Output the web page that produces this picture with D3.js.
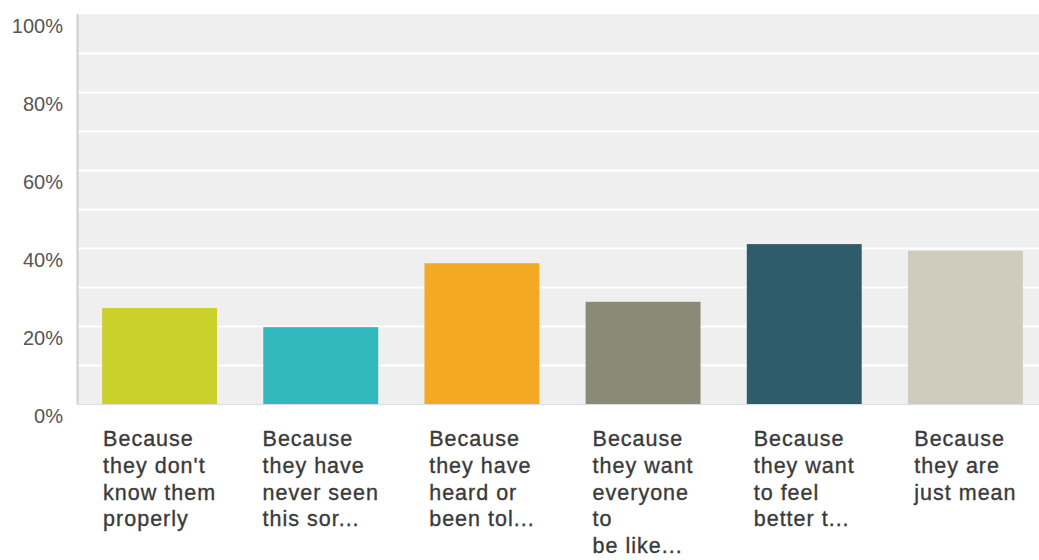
<!DOCTYPE html>
<html>
<head>
<meta charset="utf-8">
<script src="https://cdn.jsdelivr.net/npm/d3@7"></script>
<style>
  html, body { margin: 0; padding: 0; background: #fff; }
  svg { display: block; }
</style>
</head>
<body>
<div id="chart"></div>
<script>
const categories = [
  ['Because', "they don't", 'know them', 'properly'],
  ['Because', 'they have', 'never seen', 'this sor...'],
  ['Because', 'they have', 'heard or', 'been tol...'],
  ['Because', 'they want', 'everyone', 'to', 'be like...'],
  ['Because', 'they want', 'to feel', 'better t...'],
  ['Because', 'they are', 'just mean']
]
const values = [24.6, 19.7, 36.1, 26.2, 41.0, 39.3]
const colors = ['#c9d12a', '#30b8bd', '#f3aa22', '#8a8a79', '#2e5c6b', '#d0ccbd']
const yTicks = [0, 20, 40, 60, 80, 100]
const yGrid = d3.range(0, 101, 10)

const width = 1039
const height = 560
const margin = { top: 14, bottom: 156, left: 78, right: -7 }

const svg = d3.select('#chart')
  .append('svg')
  .attr('width', width)
  .attr('height', height)
  .attr('viewBox', [0, 0, width, height].join(' '))

const x = d3.scaleBand()
  .domain(d3.range(categories.length))
  .range([margin.left + 1, width - margin.right])
  .paddingInner(0.287)
  .paddingOuter(0.1435)

const y = d3.scaleLinear()
  .domain([0, 100])
  .range([height - margin.bottom, margin.top])

// plot background
svg.append('rect')
  .attr('x', margin.left)
  .attr('y', y(100))
  .attr('width', width - margin.left)
  .attr('height', y(0) - y(100))
  .attr('fill', '#efefef')

// gridlines
svg.append('g')
  .attr('class', 'grid')
  .selectAll('line')
  .data(yGrid.filter(d => d > 0 && d < 100))
  .join('line')
  .attr('x1', margin.left)
  .attr('x2', width)
  .attr('y1', d => Math.round(y(d)) + 0.5)
  .attr('y2', d => Math.round(y(d)) + 0.5)
  .attr('stroke', '#ffffff')
  .attr('stroke-width', 2)

// bars
svg.append('g')
  .attr('class', 'bars')
  .selectAll('rect')
  .data(values)
  .join('rect')
  .attr('x', (d, i) => x(i))
  .attr('y', d => y(d))
  .attr('width', x.bandwidth())
  .attr('height', d => y(0) - y(d))
  .attr('fill', (d, i) => colors[i])

// axis lines
svg.append('line')
  .attr('x1', margin.left - 0.5).attr('x2', margin.left - 0.5)
  .attr('y1', y(100)).attr('y2', y(0))
  .attr('stroke', '#cfcfcf')
  .attr('stroke-width', 2)
svg.append('line')
  .attr('x1', margin.left - 1).attr('x2', width)
  .attr('y1', y(0) + 0.5).attr('y2', y(0) + 0.5)
  .attr('stroke', '#dadde6')

// y labels
svg.append('g')
  .attr('class', 'y')
  .selectAll('text')
  .data(yTicks)
  .join('text')
  .attr('x', 63)
  .attr('y', d => y(d) + 18.5)
  .attr('text-anchor', 'end')
  .attr('font-family', '"Liberation Sans", Arial, sans-serif')
  .attr('font-size', 20)
  .attr('fill', '#555')
  .text(d => d + '%')

// category labels: left aligned block centred under each bar
const labels = svg.append('g')
  .attr('class', 'x')
  .selectAll('text')
  .data(categories)
  .join('text')
  .attr('font-family', '"Liberation Sans", Arial, sans-serif')
  .attr('font-size', 21.5)
  .attr('letter-spacing', 1)
  .attr('fill', '#3a3a3a')
  .attr('stroke', '#3a3a3a')
  .attr('stroke-width', 0.35)

labels.selectAll('tspan')
  .data(d => d)
  .join('tspan')
  .attr('dy', (d, i) => i === 0 ? 0 : 26.8)
  .text(d => d)

labels.each(function (d, i) {
  const spans = d3.select(this).selectAll('tspan')
  const w = d3.max(spans.nodes(), n => n.getComputedTextLength())
  const left = x(i) + x.bandwidth() / 2 - w / 2
  spans.attr('x', left)
  d3.select(this).attr('y', 446)
})
</script>
</body>
</html>
